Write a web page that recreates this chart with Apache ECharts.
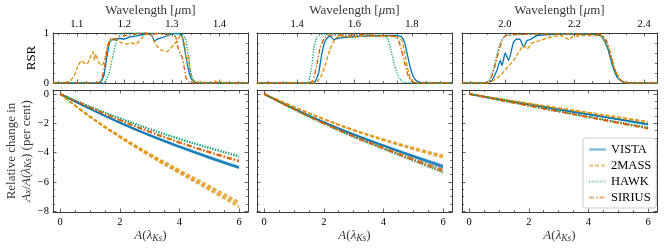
<!DOCTYPE html>
<html><head><meta charset="utf-8">
<script src="https://cdn.jsdelivr.net/npm/echarts@6/dist/echarts.min.js"></script>
<style>html,body{margin:0;padding:0;background:#fff}#c{width:664px;height:251px}</style>
</head><body><div id="c"></div>
<script>
// ---------------- DATA ----------------
const filterNames = ['VISTA', '2MASS', 'HAWK', 'SIRIUS'];
const extinctionKs = [0, 1, 2, 3, 4, 5, 6];

// Relative spectral responses [wavelength (um), RSR]
const rsrJ_VISTA = [[1.05,0],[1.14,0],[1.150,0.02],[1.157,0.15],[1.163,0.5],[1.168,0.78],[1.173,0.86],[1.18,0.87],[1.19,0.89],[1.20,0.88],[1.21,0.92],[1.22,0.93],[1.235,0.96],[1.25,0.98],[1.258,0.95],[1.263,0.84],[1.268,0.87],[1.28,0.91],[1.295,0.96],[1.305,0.99],[1.315,0.99],[1.322,0.92],[1.328,0.6],[1.334,0.3],[1.34,0.1],[1.347,0.02],[1.36,0],[1.46,0]];
const rsrJ_2MASS = [[1.05,0],[1.07,0.005],[1.085,0.03],[1.095,0.15],[1.103,0.35],[1.11,0.45],[1.115,0.4],[1.12,0.38],[1.125,0.43],[1.13,0.55],[1.134,0.62],[1.137,0.45],[1.14,0.58],[1.143,0.5],[1.147,0.4],[1.152,0.35],[1.157,0.42],[1.163,0.65],[1.168,0.82],[1.175,0.87],[1.185,0.85],[1.195,0.8],[1.205,0.78],[1.215,0.8],[1.225,0.78],[1.235,0.88],[1.245,0.97],[1.255,0.98],[1.262,0.85],[1.27,0.72],[1.28,0.65],[1.29,0.63],[1.298,0.7],[1.305,0.78],[1.312,0.85],[1.318,0.95],[1.323,0.9],[1.327,0.75],[1.331,0.45],[1.335,0.55],[1.338,0.25],[1.343,0.08],[1.35,0.02],[1.37,0.01],[1.385,0.005],[1.39,0.05],[1.393,0.02],[1.40,0.03],[1.41,0],[1.46,0]];
const rsrJ_HAWK = [[1.05,0],[1.15,0],[1.16,0.03],[1.168,0.2],[1.175,0.5],[1.182,0.8],[1.19,0.96],[1.2,1.0],[1.25,1.0],[1.3,0.99],[1.32,0.98],[1.328,0.9],[1.335,0.5],[1.34,0.2],[1.346,0.04],[1.36,0],[1.46,0]];
const rsrJ_SIRIUS = [[1.05,0],[1.14,0],[1.15,0.03],[1.158,0.3],[1.165,0.75],[1.172,0.9],[1.18,0.88],[1.19,0.92],[1.2,0.95],[1.215,0.97],[1.23,0.99],[1.245,1.0],[1.26,0.98],[1.275,0.99],[1.29,0.97],[1.3,0.98],[1.308,0.92],[1.313,0.7],[1.318,0.58],[1.322,0.5],[1.326,0.3],[1.33,0.1],[1.335,0.02],[1.35,0],[1.46,0]];

const rsrH_VISTA = [[1.26,0],[1.45,0],[1.463,0.03],[1.475,0.2],[1.485,0.55],[1.495,0.8],[1.505,0.9],[1.515,0.94],[1.527,0.87],[1.54,0.89],[1.56,0.91],[1.6,0.93],[1.65,0.94],[1.7,0.95],[1.75,0.95],[1.765,0.92],[1.775,0.8],[1.785,0.55],[1.795,0.3],[1.805,0.13],[1.815,0.05],[1.83,0.01],[1.85,0],[1.94,0]];
const rsrH_2MASS = [[1.26,0],[1.46,0],[1.47,0.03],[1.485,0.15],[1.5,0.4],[1.515,0.68],[1.53,0.86],[1.54,0.92],[1.56,0.93],[1.6,0.92],[1.64,0.94],[1.68,0.93],[1.72,0.94],[1.75,0.92],[1.765,0.85],[1.775,0.6],[1.785,0.3],[1.795,0.1],[1.805,0.02],[1.82,0],[1.94,0]];
const rsrH_HAWK = [[1.26,0],[1.43,0],[1.44,0.03],[1.45,0.3],[1.46,0.75],[1.47,0.93],[1.48,0.97],[1.5,0.98],[1.55,0.97],[1.6,0.96],[1.65,0.96],[1.7,0.95],[1.715,0.9],[1.725,0.7],[1.74,0.35],[1.755,0.1],[1.77,0.02],[1.79,0],[1.94,0]];
const rsrH_SIRIUS = [[1.26,0],[1.44,0],[1.455,0.05],[1.468,0.35],[1.48,0.7],[1.495,0.9],[1.505,0.95],[1.53,0.96],[1.57,0.95],[1.62,0.97],[1.68,0.95],[1.73,0.94],[1.75,0.9],[1.762,0.7],[1.775,0.4],[1.787,0.15],[1.8,0.03],[1.82,0],[1.94,0]];

const rsrK_VISTA = [[1.877,0],[1.95,0],[1.963,0.05],[1.977,0.25],[1.987,0.45],[1.992,0.35],[2.001,0.6],[2.011,0.45],[2.025,0.82],[2.035,0.88],[2.044,0.87],[2.054,0.72],[2.064,0.85],[2.073,0.87],[2.093,0.95],[2.131,0.97],[2.2,0.98],[2.26,0.97],[2.278,0.93],[2.295,0.7],[2.309,0.35],[2.324,0.1],[2.343,0.01],[2.37,0],[2.437,0]];
const rsrK_2MASS = [[1.877,0],[1.95,0],[1.967,0.05],[1.987,0.15],[2.006,0.3],[2.025,0.45],[2.04,0.62],[2.054,0.75],[2.064,0.68],[2.078,0.8],[2.102,0.85],[2.131,0.92],[2.16,0.95],[2.184,0.87],[2.194,0.93],[2.23,0.95],[2.275,0.95],[2.295,0.75],[2.314,0.3],[2.333,0.05],[2.353,0],[2.437,0]];
const rsrK_HAWK = [[1.877,0],[1.94,0],[1.955,0.05],[1.968,0.3],[1.98,0.65],[1.992,0.88],[2.003,0.95],[2.05,0.97],[2.1,0.98],[2.2,0.98],[2.27,0.97],[2.285,0.9],[2.3,0.6],[2.315,0.25],[2.33,0.06],[2.345,0.01],[2.37,0],[2.437,0]];
const rsrK_SIRIUS = [[1.877,0],[1.945,0],[1.958,0.05],[1.97,0.3],[1.982,0.62],[1.993,0.86],[2.002,0.95],[2.03,0.97],[2.1,0.98],[2.2,0.98],[2.275,0.97],[2.29,0.88],[2.303,0.6],[2.317,0.25],[2.332,0.06],[2.345,0.01],[2.37,0],[2.437,0]];

// Relative change in A_x/A(lambda_Ks) (per cent), several curves per filter
const chgJ_VISTA = [[0,-1.00,-1.93,-2.78,-3.55,-4.27,-4.96],[0,-1.02,-1.96,-2.82,-3.60,-4.33,-5.02],[0,-1.03,-1.98,-2.85,-3.64,-4.38,-5.07]];
const chgJ_2MASS = [[0,-1.51,-2.84,-4.05,-5.17,-6.25,-7.35],[0,-1.54,-2.89,-4.12,-5.26,-6.36,-7.48],[0,-1.56,-2.93,-4.18,-5.34,-6.46,-7.60],[0,-1.58,-2.97,-4.24,-5.42,-6.56,-7.73]];
const chgJ_HAWK = [[0,-0.84,-1.63,-2.36,-3.03,-3.64,-4.19],[0,-0.85,-1.65,-2.39,-3.07,-3.68,-4.25],[0,-0.86,-1.67,-2.42,-3.10,-3.72,-4.30]];
const chgJ_SIRIUS = [[0,-0.91,-1.76,-2.55,-3.27,-3.93,-4.52],[0,-0.92,-1.78,-2.58,-3.31,-3.97,-4.58],[0,-0.93,-1.80,-2.61,-3.34,-4.01,-4.63]];

const chgH_VISTA = [[0,-0.99,-1.91,-2.73,-3.48,-4.20,-4.87],[0,-1.00,-1.93,-2.76,-3.52,-4.25,-4.95],[0,-1.01,-1.95,-2.79,-3.56,-4.30,-5.03]];
const chgH_2MASS = [[0,-0.87,-1.69,-2.43,-3.07,-3.65,-4.18],[0,-0.88,-1.72,-2.47,-3.12,-3.72,-4.27],[0,-0.89,-1.74,-2.50,-3.17,-3.79,-4.36]];
const chgH_HAWK = [[0,-1.03,-1.99,-2.87,-3.66,-4.44,-5.20],[0,-1.05,-2.02,-2.92,-3.73,-4.52,-5.30],[0,-1.06,-2.04,-2.95,-3.77,-4.58,-5.38]];
const chgH_SIRIUS = [[0,-1.03,-1.98,-2.86,-3.65,-4.41,-5.15],[0,-1.04,-2.00,-2.90,-3.70,-4.48,-5.25],[0,-1.05,-2.02,-2.93,-3.74,-4.53,-5.33]];

const chgK_VISTA = [[0,-0.35,-0.70,-1.04,-1.38,-1.71,-2.04],[0,-0.36,-0.71,-1.05,-1.39,-1.73,-2.07],[0,-0.36,-0.72,-1.07,-1.41,-1.75,-2.10]];
const chgK_2MASS = [[0,-0.32,-0.64,-0.95,-1.26,-1.57,-1.88],[0,-0.33,-0.65,-0.97,-1.28,-1.60,-1.92],[0,-0.33,-0.66,-0.98,-1.30,-1.62,-1.95]];
const chgK_HAWK = [[0,-0.39,-0.78,-1.16,-1.53,-1.90,-2.26],[0,-0.40,-0.79,-1.17,-1.55,-1.93,-2.30],[0,-0.40,-0.80,-1.19,-1.57,-1.95,-2.33]];
const chgK_SIRIUS = [[0,-0.40,-0.79,-1.18,-1.56,-1.94,-2.31],[0,-0.41,-0.80,-1.19,-1.58,-1.97,-2.35],[0,-0.41,-0.81,-1.21,-1.60,-1.99,-2.38]];

// Tick labels
const wlTicksJ = [1.1, 1.2, 1.3, 1.4];
const wlTicksH = [1.4, 1.6, 1.8];
const wlTicksK = [2.0, 2.2, 2.4];
const rsrTicks = [0, 1];
const extTicks = [0, 2, 4, 6];
const chgTicks = [0, -2, -4, -6, -8];

// ---------------- STYLE / LAYOUT ----------------
const FONT = "'Liberation Serif','DejaVu Serif',serif";
const FRAME = '#3a3a3a';
const colors = {VISTA: '#0173B2', '2MASS': '#DE8F05', HAWK: '#029E73', SIRIUS: '#D55E00'};
const dashes = {VISTA: 'solid', '2MASS': [4, 2], HAWK: [1.2, 1.5], SIRIUS: [5, 2, 1.5, 2]};
const panelLeft = [53, 257, 462];
const panelW = 195;
const wlRanges = [[1.05, 1.46], [1.26, 1.94], [1.877, 2.437]];
const wlTicks = [wlTicksJ, wlTicksH, wlTicksK];
const wlMinorStep = [0.02, 0.05, 0.05];
const extRange = [-0.24, 6.3];
const chgRange = [-8.05, 0.27];

function minorVals(min, max, step, majors) {
  const out = [];
  const start = Math.ceil(min / step - 1e-9);
  for (let k = start; k * step <= max + 1e-9; k++) {
    const v = +(k * step).toFixed(6);
    if (v <= min + 1e-9 || v >= max - 1e-9) continue;
    if (majors.some(m => Math.abs(m - v) < 1e-6)) continue;
    out.push(v);
  }
  return out;
}

const grids = [];
const xAxes = [];
const yAxes = [];
const series = [];

const tickLabelStyle = {fontFamily: FONT, fontSize: 10.5, color: '#000'};
const minusFmt = v => (v < 0 ? '\u2212' + Math.abs(v) : String(v));

function addAxes(dimArr, gi, pos, min, max, majors, minors, opts) {
  const base = {
    type: 'value', gridIndex: gi, position: pos, min: min, max: max,
    splitLine: {show: false}, splitArea: {show: false}
  };
  dimArr.push(Object.assign({}, base, {
    axisLine: {show: true, onZero: false, lineStyle: {color: FRAME, width: 1}},
    axisTick: {show: true, inside: true, length: 3.5, customValues: majors, lineStyle: {color: FRAME, width: 0.8}},
    axisLabel: Object.assign({show: !!opts.labels, customValues: majors, margin: opts.margin || 4, formatter: opts.formatter}, tickLabelStyle),
  }, opts.extra || {}));
  dimArr.push(Object.assign({}, base, {
    axisLine: {show: false, onZero: false},
    axisTick: {show: true, inside: true, length: 2, customValues: minors, lineStyle: {color: FRAME, width: 0.7}},
    axisLabel: {show: false}
  }));
}

const sub = {fontFamily: FONT, fontStyle: 'italic', fontSize: 9.5, verticalAlign: 'bottom', lineHeight: 8};
const ital = {fontFamily: FONT, fontStyle: 'italic', fontSize: 13, lineHeight: 15};
const norm = {fontFamily: FONT, fontSize: 13, lineHeight: 15};

// top panels (RSR): grid indices 0..2, axis indices 4*g
for (let p = 0; p < 3; p++) {
  const gi = grids.length;
  grids.push({left: panelLeft[p], width: panelW, top: 33, height: 50, outerBoundsMode: 'none', containLabel: false});
  const [mn, mx] = wlRanges[p];
  const minX = minorVals(mn, mx, wlMinorStep[p], wlTicks[p]);
  addAxes(xAxes, gi, 'bottom', mn, mx, wlTicks[p], minX, {labels: false});
  addAxes(xAxes, gi, 'top', mn, mx, wlTicks[p], minX, {labels: true, margin: 3, formatter: v => v.toFixed(1),
    extra: {name: '{n|Wavelength [}{i|\u03bc}{n|m]}', nameLocation: 'middle', nameGap: 15,
      nameTextStyle: {rich: {n: norm, i: ital}}}});
  const minY = minorVals(0, 1, 0.2, rsrTicks);
  addAxes(yAxes, gi, 'left', 0, 1, rsrTicks, minY, {labels: p === 0, margin: 4, formatter: v => String(v),
    extra: p === 0 ? {name: 'RSR', nameLocation: 'middle', nameGap: 15, nameRotate: 90,
      nameTextStyle: {fontFamily: FONT, fontSize: 13, color: '#000'}} : {}});
  addAxes(yAxes, gi, 'right', 0, 1, rsrTicks, minY, {labels: false});
}
// bottom panels: grid indices 3..5
for (let p = 0; p < 3; p++) {
  const gi = grids.length;
  grids.push({left: panelLeft[p], width: panelW, top: 90, bottom: 39, outerBoundsMode: 'none', containLabel: false});
  const [mn, mx] = extRange;
  const minX = minorVals(mn, mx, 0.5, extTicks);
  addAxes(xAxes, gi, 'bottom', mn, mx, extTicks, minX, {labels: true, margin: 5, formatter: v => String(v),
    extra: {name: '{i|A}{n|(}{i|\u03bb}{s|Ks}{n|)}', nameLocation: 'middle', nameGap: 16,
      nameTextStyle: {rich: {n: norm, i: ital, s: sub}}}});
  addAxes(xAxes, gi, 'top', mn, mx, extTicks, minX, {labels: false});
  const minY = minorVals(chgRange[0], chgRange[1], 0.5, chgTicks);
  addAxes(yAxes, gi, 'left', chgRange[0], chgRange[1], chgTicks, minY, {labels: p === 0, margin: 4, formatter: minusFmt,
    extra: p === 0 ? {name: '{n|Relative change in}\n{i|A}{s|x}{n|/}{i|A}{n|(}{i|\u03bb}{s|Ks}{n|) (per cent)}',
      nameLocation: 'middle', nameGap: 17, nameRotate: 90,
      nameTextStyle: {align: 'center', rich: {n: norm, i: ital, s: sub}}} : {}});
  addAxes(yAxes, gi, 'right', chgRange[0], chgRange[1], chgTicks, minY, {labels: false});
}

// bottom series first (so legend icons use their style)
const chgSets = [
  {VISTA: chgJ_VISTA, '2MASS': chgJ_2MASS, HAWK: chgJ_HAWK, SIRIUS: chgJ_SIRIUS},
  {VISTA: chgH_VISTA, '2MASS': chgH_2MASS, HAWK: chgH_HAWK, SIRIUS: chgH_SIRIUS},
  {VISTA: chgK_VISTA, '2MASS': chgK_2MASS, HAWK: chgK_HAWK, SIRIUS: chgK_SIRIUS}
];
for (let p = 0; p < 3; p++) {
  const ai = (3 + p) * 4;
  filterNames.forEach(f => {
    chgSets[p][f].forEach(vals => {
      series.push({
        type: 'line', name: f, xAxisIndex: ai, yAxisIndex: ai,
        data: extinctionKs.map((x, i) => [x, vals[i]]),
        smooth: 0.4, showSymbol: false, symbol: 'none', silent: true,
        lineStyle: {color: colors[f], width: 1.5, type: dashes[f], opacity: 0.75},
        itemStyle: {color: colors[f]}
      });
    });
  });
}
const rsrSets = [
  {VISTA: rsrJ_VISTA, '2MASS': rsrJ_2MASS, HAWK: rsrJ_HAWK, SIRIUS: rsrJ_SIRIUS},
  {VISTA: rsrH_VISTA, '2MASS': rsrH_2MASS, HAWK: rsrH_HAWK, SIRIUS: rsrH_SIRIUS},
  {VISTA: rsrK_VISTA, '2MASS': rsrK_2MASS, HAWK: rsrK_HAWK, SIRIUS: rsrK_SIRIUS}
];
for (let p = 0; p < 3; p++) {
  const ai = p * 4;
  filterNames.forEach(f => {
    series.push({
      type: 'line', name: f, xAxisIndex: ai, yAxisIndex: ai,
      data: rsrSets[p][f], smooth: 0.15, showSymbol: false, symbol: 'none', silent: true,
      lineStyle: {color: colors[f], width: 1.3, type: dashes[f], opacity: 1},
      itemStyle: {color: colors[f]}
    });
  });
}

const chart = echarts.init(document.getElementById('c'), null, {renderer: 'canvas'});
chart.setOption({
  animation: false,
  backgroundColor: '#fff',
  grid: grids,
  xAxis: xAxes,
  yAxis: yAxes,
  legend: {
    data: filterNames.map(f => ({name: f, lineStyle: {width: 2, opacity: 0.55}, itemStyle: {opacity: 0, borderWidth: 0}})),
    orient: 'vertical', left: 583, top: 138,
    itemWidth: 17, itemHeight: 10, itemGap: 3, padding: [5, 5, 4, 5],
    itemStyle: {opacity: 0, borderWidth: 0},
    backgroundColor: 'rgba(255,255,255,0.9)', borderColor: '#ccc', borderWidth: 1, borderRadius: 3,
    textStyle: {fontFamily: FONT, fontSize: 12.5, color: '#000'},
    selectedMode: false
  },
  series: series
});
</script></body></html>
